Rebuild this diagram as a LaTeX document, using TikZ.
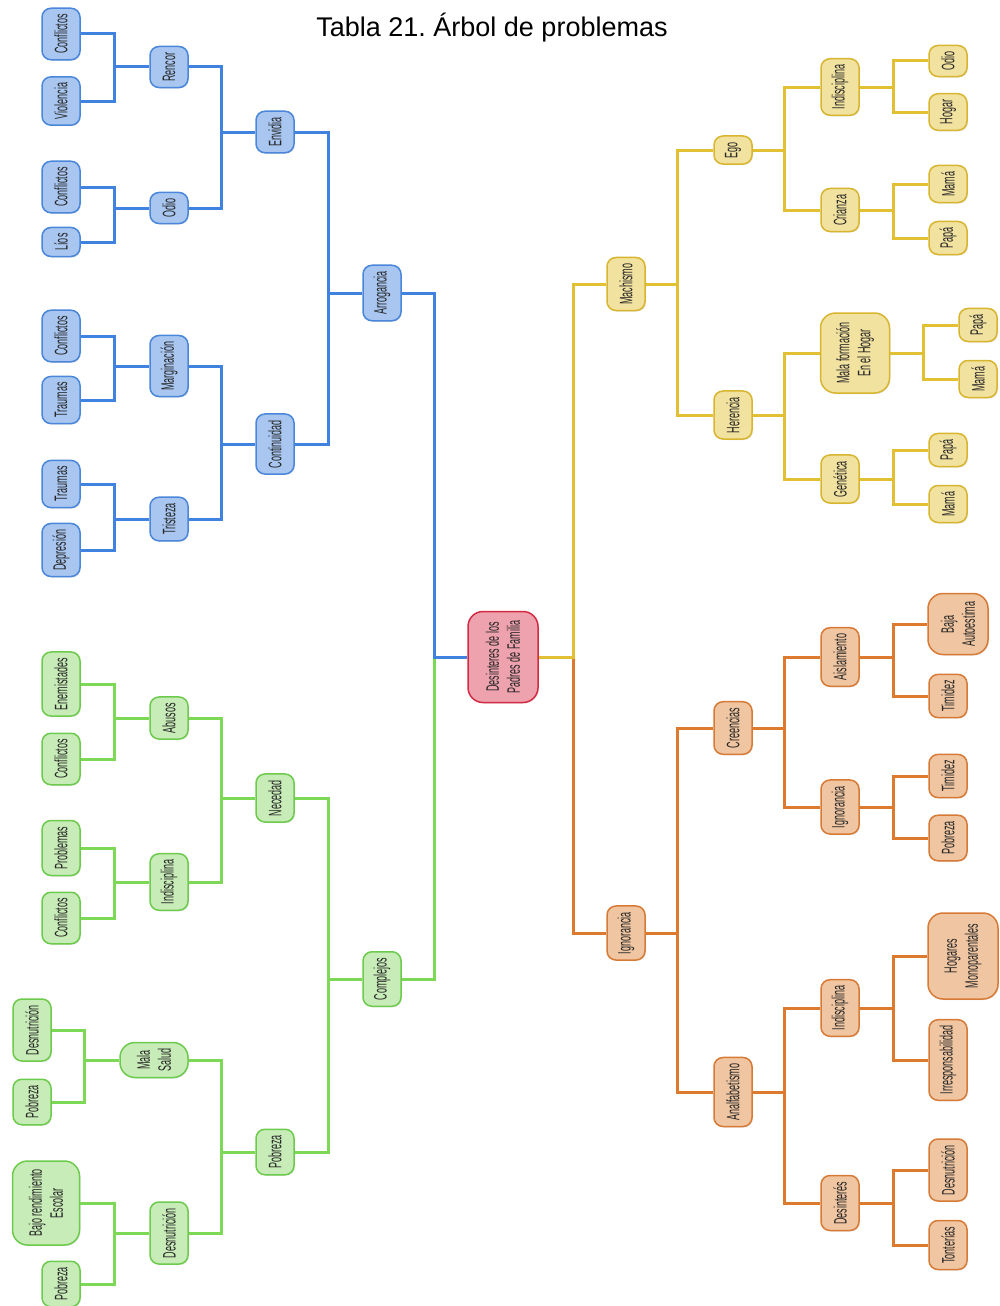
\documentclass[tikz,border=0pt]{standalone}
\usepackage{fontspec}
\setmainfont{Liberation Sans}
\newfontfamily\narrowfont[FakeStretch=0.5]{Liberation Sans}
\usetikzlibrary{shadows}

\definecolor{blueline}{HTML}{3F82E0}
\definecolor{bluefill}{HTML}{A8C6F0}
\definecolor{blueedge}{HTML}{4A87DA}
\definecolor{greenline}{HTML}{7DD856}
\definecolor{greenfill}{HTML}{C8ECB8}
\definecolor{greenedge}{HTML}{6CCB4C}
\definecolor{yellowline}{HTML}{E2C034}
\definecolor{yellowfill}{HTML}{F2E2A0}
\definecolor{yellowedge}{HTML}{D8B52E}
\definecolor{orangeline}{HTML}{DE7A2D}
\definecolor{orangefill}{HTML}{F0C6A2}
\definecolor{orangeedge}{HTML}{D77A35}
\definecolor{rootfill}{HTML}{EDA2AE}
\definecolor{rootedge}{HTML}{D42B45}

\tikzset{
  box/.style={rounded corners=9pt, rotate=90, line width=1.5pt, minimum height=38pt,
    inner xsep=6pt, align=center, text=black!85,
    font=\narrowfont\fontsize{18}{21}\selectfont,
    drop shadow={opacity=.2,shadow xshift=1pt,shadow yshift=-1pt}},
  big/.style={rounded corners=15pt},
  bbox/.style={box, fill=bluefill, draw=blueedge},
  gbox/.style={box, fill=greenfill, draw=greenedge},
  ybox/.style={box, fill=yellowfill, draw=yellowedge},
  obox/.style={box, fill=orangefill, draw=orangeedge},
  bline/.style={draw=blueline, line width=3pt},
  gline/.style={draw=greenline, line width=3pt},
  yline/.style={draw=yellowline, line width=3pt},
  oline/.style={draw=orangeline, line width=3pt}
}

\begin{document}
\begin{tikzpicture}[x=1pt,y=1pt]
  \useasboundingbox (0,0) rectangle (999,-1306);
  \node[font=\fontsize{27}{32}\selectfont] (title) at (492,-28) {Tabla 21.\ Árbol de problemas};

  % centro
  \node[box, big, fill=rootfill, draw=rootedge, minimum height=70pt, minimum width=91pt] (root) at (503,-657) {Desinteres de los\\Padres de Familia};

  % rama azul
  \node[bbox] (b1) at (382,-293) {Arrogancia};
  \node[bbox] (b11) at (275,-132) {Envidia};
  \node[bbox] (b12) at (275,-444) {Continuidad};
  \node[bbox] (b111) at (169,-67) {Rencor};
  \node[bbox] (b112) at (169,-208) {Odio};
  \node[bbox] (b121) at (169,-366) {Marginación};
  \node[bbox] (b122) at (169,-519) {Tristeza};
  \node[bbox] (b1111) at (61,-34) {Conflictos};
  \node[bbox] (b1112) at (61,-101) {Violencia};
  \node[bbox] (b1121) at (61,-187) {Conflictos};
  \node[bbox] (b1122) at (61,-242) {Líos};
  \node[bbox] (b1211) at (61,-336) {Conflictos};
  \node[bbox] (b1212) at (61,-400) {Traumas};
  \node[bbox] (b1221) at (61,-484) {Traumas};
  \node[bbox] (b1222) at (61,-550) {Depresión};

  % rama verde
  \node[gbox] (g1) at (382,-979) {Complejos};
  \node[gbox] (g11) at (275,-798) {Necedad};
  \node[gbox] (g12) at (275,-1152) {Pobreza};
  \node[gbox] (g111) at (169,-718) {Abusos};
  \node[gbox] (g112) at (169,-882) {Indisciplina};
  \node[gbox, big, minimum height=68pt] (g121) at (154,-1060) {Mala\\Salud};
  \node[gbox] (g122) at (169,-1233) {Desnutrición};
  \node[gbox] (g1111) at (61,-684) {Enemistades};
  \node[gbox] (g1112) at (61,-759) {Conflictos};
  \node[gbox] (g1121) at (61,-848) {Problemas};
  \node[gbox] (g1122) at (61,-918) {Conflictos};
  \node[gbox] (g1211) at (32,-1030) {Desnutrición};
  \node[gbox] (g1212) at (32,-1102) {Pobreza};
  \node[gbox, big, minimum height=67pt, minimum width=84pt] (g1221) at (46,-1203) {Bajo rendimiento\\Escolar};
  \node[gbox] (g1222) at (61,-1284) {Pobreza};

  % rama amarilla
  \node[ybox] (y1) at (626,-284) {Machismo};
  \node[ybox] (y11) at (733,-150) {Ego};
  \node[ybox] (y12) at (733,-415) {Herencia};
  \node[ybox] (y111) at (840,-87) {Indisciplina};
  \node[ybox] (y112) at (840,-210) {Crianza};
  \node[ybox, big, minimum height=69pt, minimum width=80pt] (y121) at (855,-353) {Mala formación\\En el Hogar};
  \node[ybox] (y122) at (840,-479) {Genética};
  \node[ybox] (y1111) at (948,-61) {Odio};
  \node[ybox] (y1112) at (948,-112) {Hogar};
  \node[ybox] (y1121) at (948,-184) {Mamá};
  \node[ybox] (y1122) at (948,-238) {Papá};
  \node[ybox] (y1211) at (978,-325) {Papá};
  \node[ybox] (y1212) at (978,-379) {Mamá};
  \node[ybox] (y1221) at (948,-450) {Papá};
  \node[ybox] (y1222) at (948,-504) {Mamá};

  % rama naranja
  \node[obox] (o1) at (626,-933) {Ignorancia};
  \node[obox] (o11) at (733,-728) {Creencias};
  \node[obox] (o12) at (733,-1092) {Analfabetismo};
  \node[obox] (o111) at (840,-657) {Aislamiento};
  \node[obox] (o112) at (840,-807) {Ignorancia};
  \node[obox] (o121) at (840,-1008) {Indisciplina};
  \node[obox] (o122) at (840,-1203) {Desinterés};
  \node[obox, big, minimum height=60pt, minimum width=61pt] (o1111) at (958,-624) {Baja\\Autoestima};
  \node[obox] (o1112) at (948,-696) {Timidez};
  \node[obox] (o1121) at (948,-776) {Timidez};
  \node[obox] (o1122) at (948,-838) {Pobreza};
  \node[obox, big, minimum height=70pt, minimum width=86pt] (o1211) at (963,-956) {Hogares\\Monoparentales};
  \node[obox] (o1212) at (948,-1060) {Irresponsabilidad};
  \node[obox] (o1221) at (948,-1170) {Desnutrición};
  \node[obox] (o1222) at (948,-1245) {Tonterías};

  % conectores izquierda
  \draw[gline] (root.north) ++(-33,0) |- (g1.south);
  \draw[bline] (root.north) -- ++(-33,0) |- (b1.south);
  \draw[bline] (b1.north) -- ++(-34,0) coordinate (k) |- (b11.south) (k) |- (b12.south);
  \draw[bline] (b11.north) -- ++(-34,0) coordinate (k) |- (b111.south) (k) |- (b112.south);
  \draw[bline] (b12.north) -- ++(-34,0) coordinate (k) |- (b121.south) (k) |- (b122.south);
  \draw[bline] (b111.north) -- ++(-35,0) coordinate (k) |- (b1111.south) (k) |- (b1112.south);
  \draw[bline] (b112.north) -- ++(-35,0) coordinate (k) |- (b1121.south) (k) |- (b1122.south);
  \draw[bline] (b121.north) -- ++(-35,0) coordinate (k) |- (b1211.south) (k) |- (b1212.south);
  \draw[bline] (b122.north) -- ++(-35,0) coordinate (k) |- (b1221.south) (k) |- (b1222.south);
  \draw[gline] (g1.north) -- ++(-34,0) coordinate (k) |- (g11.south) (k) |- (g12.south);
  \draw[gline] (g11.north) -- ++(-34,0) coordinate (k) |- (g111.south) (k) |- (g112.south);
  \draw[gline] (g12.north) -- ++(-34,0) coordinate (k) |- (g121.south) (k) |- (g122.south);
  \draw[gline] (g111.north) -- ++(-35,0) coordinate (k) |- (g1111.south) (k) |- (g1112.south);
  \draw[gline] (g112.north) -- ++(-35,0) coordinate (k) |- (g1121.south) (k) |- (g1122.south);
  \draw[gline] (g121.north) -- ++(-35,0) coordinate (k) |- (g1211.south) (k) |- (g1212.south);
  \draw[gline] (g122.north) -- ++(-35,0) coordinate (k) |- (g1221.south) (k) |- (g1222.south);

  % conectores derecha
  \draw[oline] (root.south) ++(35,0) |- (o1.north);
  \draw[yline] (root.south) -- ++(35,0) |- (y1.north);
  \draw[yline] (y1.south) -- ++(32,0) coordinate (k) |- (y11.north) (k) |- (y12.north);
  \draw[yline] (y11.south) -- ++(32,0) coordinate (k) |- (y111.north) (k) |- (y112.north);
  \draw[yline] (y12.south) -- ++(32,0) coordinate (k) |- (y121.north) (k) |- (y122.north);
  \draw[yline] (y111.south) -- ++(34,0) coordinate (k) |- (y1111.north) (k) |- (y1112.north);
  \draw[yline] (y112.south) -- ++(34,0) coordinate (k) |- (y1121.north) (k) |- (y1122.north);
  \draw[yline] (y121.south) -- ++(33,0) coordinate (k) |- (y1211.north) (k) |- (y1212.north);
  \draw[yline] (y122.south) -- ++(34,0) coordinate (k) |- (y1221.north) (k) |- (y1222.north);
  \draw[oline] (o1.south) -- ++(32,0) coordinate (k) |- (o11.north) (k) |- (o12.north);
  \draw[oline] (o11.south) -- ++(32,0) coordinate (k) |- (o111.north) (k) |- (o112.north);
  \draw[oline] (o12.south) -- ++(32,0) coordinate (k) |- (o121.north) (k) |- (o122.north);
  \draw[oline] (o111.south) -- ++(34,0) coordinate (k) |- (o1111.north) (k) |- (o1112.north);
  \draw[oline] (o112.south) -- ++(34,0) coordinate (k) |- (o1121.north) (k) |- (o1122.north);
  \draw[oline] (o121.south) -- ++(34,0) coordinate (k) |- (o1211.north) (k) |- (o1212.north);
  \draw[oline] (o122.south) -- ++(34,0) coordinate (k) |- (o1221.north) (k) |- (o1222.north);
\end{tikzpicture}
\end{document}
